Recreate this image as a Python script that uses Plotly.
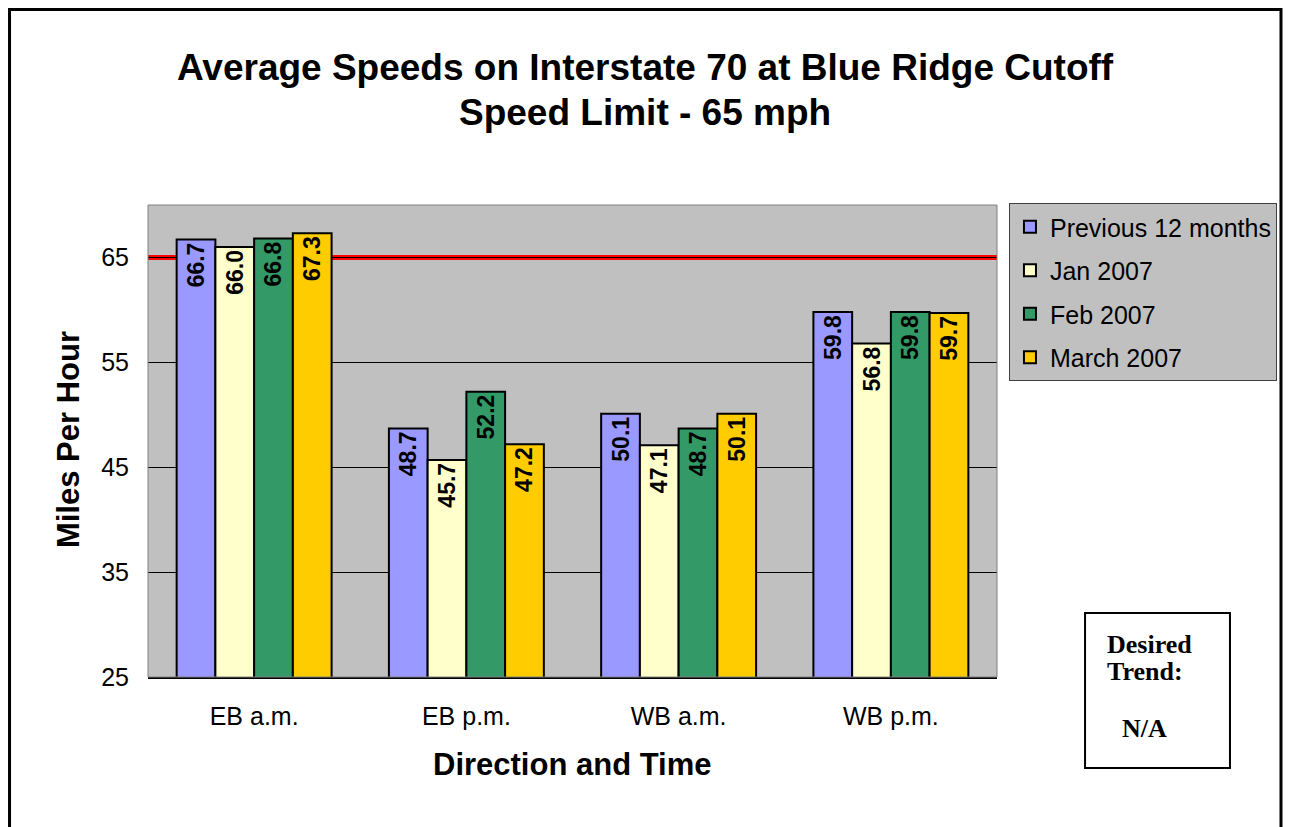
import plotly.graph_objects as go

# data
categories = ["EB a.m.", "EB p.m.", "WB a.m.", "WB p.m."]
series_names = ["Previous 12 months", "Jan 2007", "Feb 2007", "March 2007"]
prev_12_months = [66.7, 48.7, 50.1, 59.8]
jan_2007 = [66.0, 45.7, 47.1, 56.8]
feb_2007 = [66.8, 52.2, 48.7, 59.8]
march_2007 = [67.3, 47.2, 50.1, 59.7]
speed_limit = 65
y_ticks = [25, 35, 45, 55, 65]

colors = ["#9999FF", "#FFFFCC", "#339966", "#FFCC00"]
all_series = [prev_12_months, jan_2007, feb_2007, march_2007]

fig = go.Figure()
for name, vals, col in zip(series_names, all_series, colors):
    fig.add_trace(go.Bar(
        x=categories,
        y=vals,
        name=name,
        legendgroup=name,
        marker=dict(color=col, line=dict(color="black", width=2)),
        text=[f"{v:.1f}" for v in vals],
        textposition="inside",
        insidetextanchor="end",
        textangle=-90,
        constraintext="none",
        textfont=dict(family="Liberation Sans, Arial", size=23, color="black", weight="bold"),
    ))

# speed limit line, drawn between the grid and the bars
fig.add_shape(type="line", xref="paper", yref="y", x0=0, x1=1,
              y0=speed_limit, y1=speed_limit,
              line=dict(color="#FF0000", width=5), layer="between")

# plot area border
fig.add_shape(type="rect", xref="paper", yref="paper", x0=0, x1=1, y0=0, y1=1,
              line=dict(color="#808080", width=1), layer="above")

# outer frame (kept just inside the visible page so it isn't clipped)
fig.add_shape(type="rect", xref="paper", yref="paper",
              x0=-0.1631, x1=1.3345, y0=-0.35, y1=1.4142,
              line=dict(color="black", width=3))

# desired trend box
fig.add_shape(type="rect", xref="paper", yref="paper",
              x0=1.1037, x1=1.2744, y0=-0.1928, y1=0.1356,
              line=dict(color="black", width=2))

serif_bold = dict(family="Liberation Serif, Times New Roman", size=26, color="black", weight="bold")
fig.add_annotation(text="Desired", xref="paper", yref="paper", x=1.127, y=0.0678,
                   xanchor="left", yanchor="middle", showarrow=False, font=serif_bold)
fig.add_annotation(text="Trend:", xref="paper", yref="paper", x=1.127, y=0.0106,
                   xanchor="left", yanchor="middle", showarrow=False, font=serif_bold)
fig.add_annotation(text="N/A", xref="paper", yref="paper", x=1.145, y=-0.1081,
                   xanchor="left", yanchor="middle", showarrow=False, font=serif_bold)

sans_bold = dict(family="Liberation Sans, Arial", color="black", weight="bold")
fig.add_annotation(text="Average Speeds on Interstate 70 at Blue Ridge Cutoff",
                   xref="paper", yref="paper", x=0.5854, y=1.2903,
                   xanchor="center", yanchor="middle", showarrow=False,
                   font=dict(sans_bold, size=37))
fig.add_annotation(text="Speed Limit - 65 mph",
                   xref="paper", yref="paper", x=0.5854, y=1.197,
                   xanchor="center", yanchor="middle", showarrow=False,
                   font=dict(sans_bold, size=37))
fig.add_annotation(text="Miles Per Hour", xref="paper", yref="paper",
                   x=-0.0942, y=0.502, textangle=-90,
                   xanchor="center", yanchor="middle", showarrow=False,
                   font=dict(sans_bold, size=31))
fig.add_annotation(text="Direction and Time", xref="paper", yref="paper",
                   x=0.5, y=-0.1864,
                   xanchor="center", yanchor="middle", showarrow=False,
                   font=dict(sans_bold, size=31))

# page has an 8px body offset, so the figure is a little smaller than the window
fig.update_layout(
    width=1283,
    height=819,
    margin=dict(l=140, r=294, t=197, b=150),
    paper_bgcolor="white",
    plot_bgcolor="#C0C0C0",
    barmode="group",
    bargap=0.27,
    bargroupgap=0,
    font=dict(family="Liberation Sans, Arial", size=25, color="black"),
    legend=dict(
        x=1.0141, y=1.0042, xanchor="left", yanchor="top",
        bgcolor="#C0C0C0", bordercolor="#404040", borderwidth=1,
        font=dict(size=25), tracegroupgap=8,
        itemwidth=30,
    ),
    showlegend=True,
)
fig.update_xaxes(showgrid=False, showline=True, linecolor="black", linewidth=2,
                 ticks="", ticklabelstandoff=16, tickfont=dict(size=25))
fig.update_yaxes(range=[25, 70], tickvals=y_ticks, showgrid=True, gridcolor="black",
                 gridwidth=1, zeroline=False, showline=False, ticks="",
                 ticklabelstandoff=18, tickfont=dict(size=25))

fig.write_html("out.html")
